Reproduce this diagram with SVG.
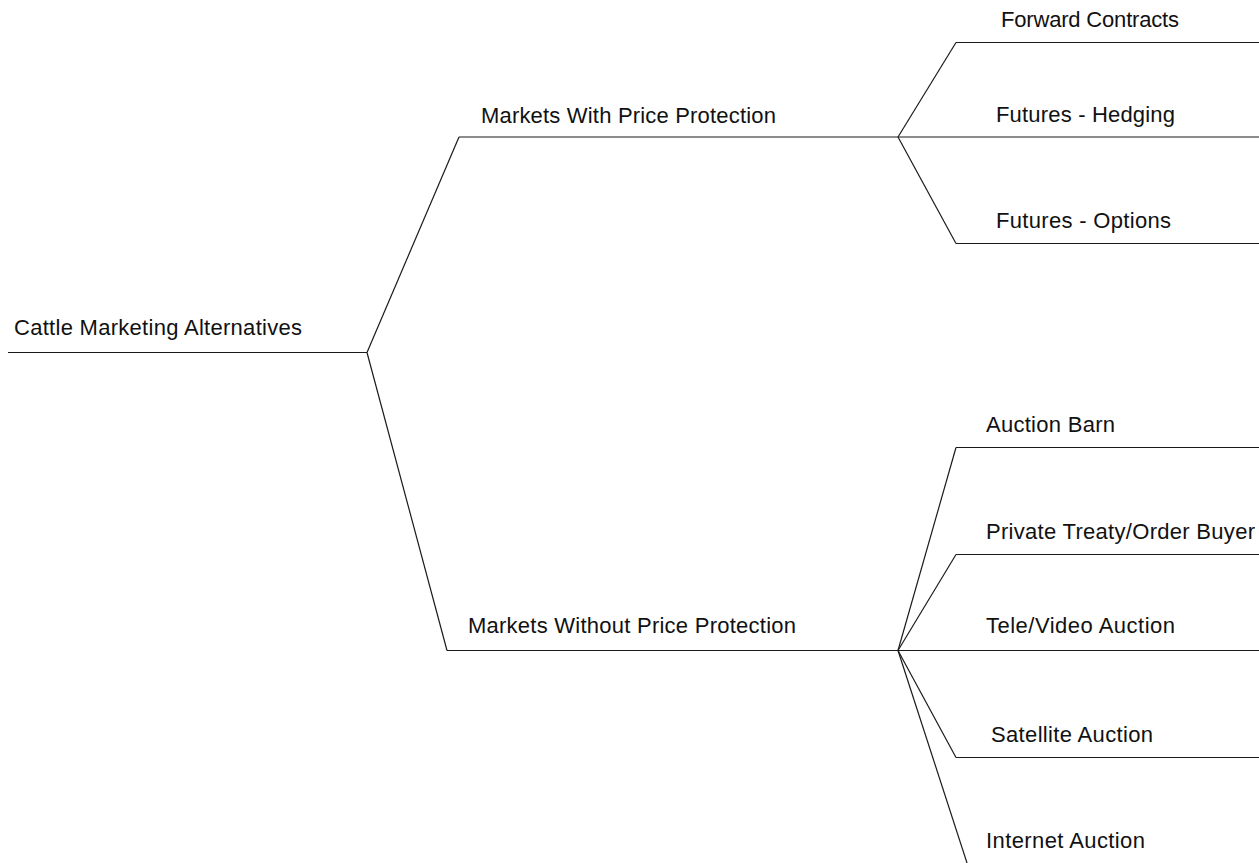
<svg xmlns="http://www.w3.org/2000/svg" width="1259" height="863" viewBox="0 0 1259 863">
<style>
text{font-family:"Liberation Sans",Arial,sans-serif;font-size:22px;fill:#111}
line,polyline{stroke:#1a1a1a;stroke-width:1.2;fill:none}
</style>
<rect width="1259" height="863" fill="#fff"/>
<g id="connectors">
<line x1="367" y1="352.5" x2="459" y2="137"/>
<line x1="367" y1="352.5" x2="447" y2="650.5"/>
<line x1="898" y1="137" x2="956" y2="42.5"/>
<line x1="898" y1="137" x2="956" y2="243.5"/>
<line x1="898" y1="650.5" x2="956" y2="447.5"/>
<line x1="898" y1="650.5" x2="956" y2="554.5"/>
<line x1="898" y1="650.5" x2="956" y2="757.5"/>
<line x1="898" y1="650.5" x2="968" y2="866"/>
</g>
<g id="root">
<line x1="8" y1="352.5" x2="367" y2="352.5"/>
<text x="14" y="335" textLength="288" lengthAdjust="spacing">Cattle Marketing Alternatives</text>
</g>
<g id="with-protection">
<line x1="459" y1="137" x2="898" y2="137"/>
<text x="481" y="123" textLength="295" lengthAdjust="spacing">Markets With Price Protection</text>
</g>
<g id="without-protection">
<line x1="447" y1="650.5" x2="898" y2="650.5"/>
<text x="468" y="633" textLength="328" lengthAdjust="spacing">Markets Without Price Protection</text>
</g>
<g id="forward-contracts">
<line x1="956" y1="42.5" x2="1259" y2="42.5"/>
<text x="1001" y="27" textLength="178" lengthAdjust="spacing">Forward Contracts</text>
</g>
<g id="futures-hedging">
<line x1="898" y1="137" x2="1259" y2="137"/>
<text x="996" y="122" textLength="179" lengthAdjust="spacing">Futures - Hedging</text>
</g>
<g id="futures-options">
<line x1="956" y1="243.5" x2="1259" y2="243.5"/>
<text x="996" y="228" textLength="175" lengthAdjust="spacing">Futures - Options</text>
</g>
<g id="auction-barn">
<line x1="956" y1="447.5" x2="1259" y2="447.5"/>
<text x="986" y="432" textLength="129" lengthAdjust="spacing">Auction Barn</text>
</g>
<g id="private-treaty">
<line x1="956" y1="554.5" x2="1259" y2="554.5"/>
<text x="986" y="539" textLength="269" lengthAdjust="spacing">Private Treaty/Order Buyer</text>
</g>
<g id="tele-video">
<line x1="898" y1="650.5" x2="1259" y2="650.5"/>
<text x="986" y="633" textLength="189" lengthAdjust="spacing">Tele/Video Auction</text>
</g>
<g id="satellite">
<line x1="956" y1="757.5" x2="1259" y2="757.5"/>
<text x="991" y="742" textLength="162" lengthAdjust="spacing">Satellite Auction</text>
</g>
<g id="internet">
<text x="986" y="848" textLength="159" lengthAdjust="spacing">Internet Auction</text>
</g>
</svg>
